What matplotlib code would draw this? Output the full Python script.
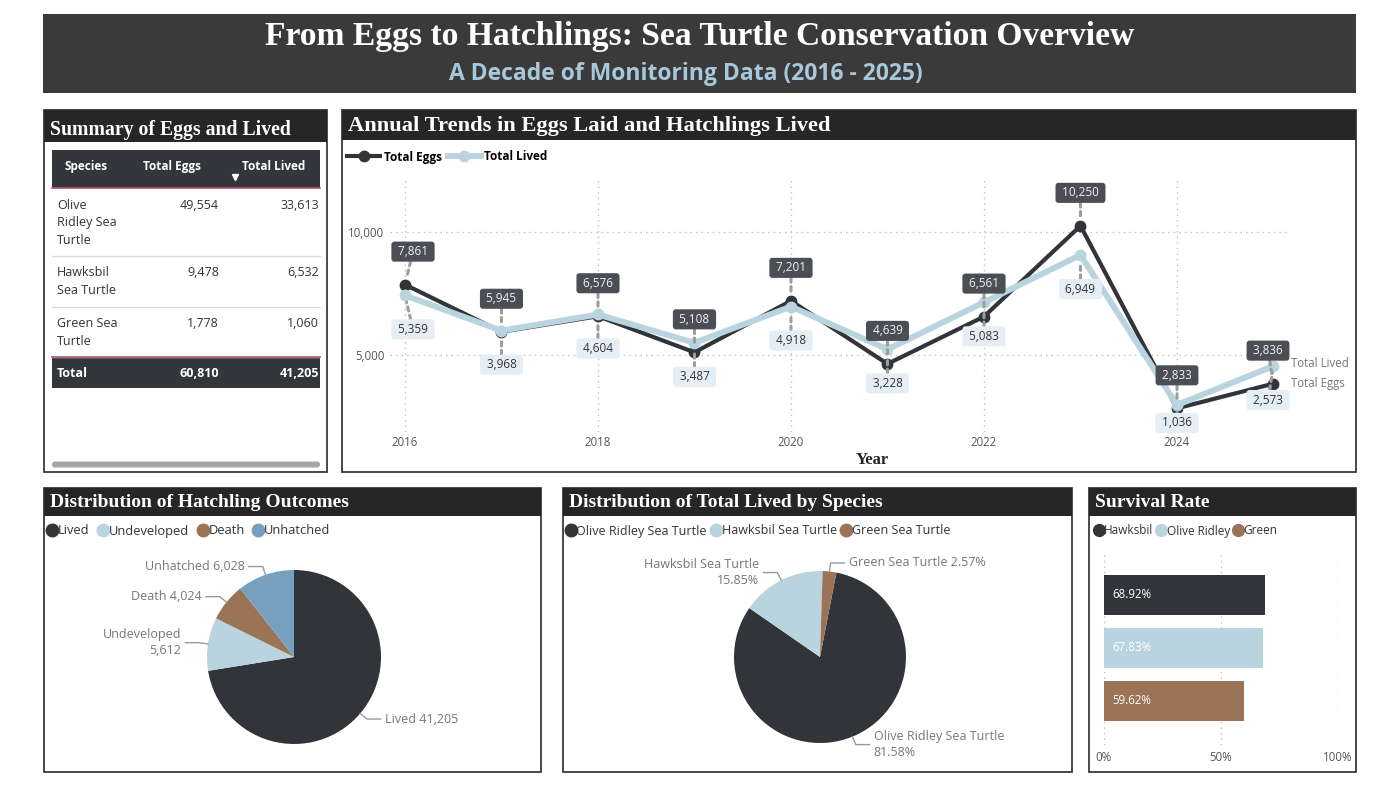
import matplotlib
matplotlib.use("Agg")
import matplotlib.pyplot as plt
from matplotlib.patches import Rectangle, FancyBboxPatch
from matplotlib.lines import Line2D
import numpy as np
import textwrap

# ---------------- data ----------------
years = list(range(2016, 2026))
eggs_by_year = [7861, 5945, 6576, 5108, 7201, 4639, 6561, 10250, 2833, 3836]
lived_by_year = [5359, 3968, 4604, 3487, 4918, 3228, 5083, 6949, 1036, 2573]

species = ["Olive Ridley Sea Turtle", "Hawksbil Sea Turtle", "Green Sea Turtle"]
species_eggs = [49554, 9478, 1778]
species_lived = [33613, 6532, 1060]

outcomes = ["Lived", "Undeveloped", "Death", "Unhatched"]
outcome_counts = [41205, 5612, 4024, 6028]
outcome_wrap = [False, True, False, False]

lived_species_wrap = [True, True, False]

survival_names = ["Hawksbil", "Olive Ridley", "Green"]
survival_species_idx = [1, 0, 2]

x_ticks = [2016, 2018, 2020, 2022, 2024]
y_ticks = [5000, 10000]
pct_ticks = [0, 50, 100]

# ---------------- style ----------------
W, H, DPI = 1400, 788, 100
DARK = "#31353a"
LIGHT = "#b9d3df"
BROWN = "#9b7457"
STEEL = "#77a0bf"
HEAD = "#262626"
SANS = ["Open Sans", "DejaVu Sans"]
SERIF = ["Liberation Serif", "DejaVu Serif"]
plt.rcParams["font.family"] = SANS

fig = plt.figure(figsize=(W / DPI, H / DPI), dpi=DPI, facecolor="white")
bg = fig.add_axes([0, 0, 1, 1])
bg.set_xlim(0, W)
bg.set_ylim(H, 0)
bg.axis("off")


def add_ax(x0, y0, x1, y1):
    a = fig.add_axes([x0 / W, 1 - y1 / H, (x1 - x0) / W, (y1 - y0) / H])
    a.set_facecolor("none")
    return a


def panel(x0, y0, x1, y1, hh, title, size, ty):
    bg.add_patch(Rectangle((x0, y0), x1 - x0, y1 - y0, fc="white", ec="#3a3a3a", lw=1.3, zorder=1))
    bg.add_patch(Rectangle((x0, y0), x1 - x0, hh, fc=HEAD, ec="none", zorder=2))
    bg.text(x0 + 6, ty, title, color="white", family=SERIF, weight="bold",
            fontsize=size, ha="left", va="center", zorder=3)


# ---------------- header ----------------
bg.add_patch(Rectangle((43, 14), 1313, 79, fc="#3a3a3a", ec="none"))
bg.text(700, 36, "From Eggs to Hatchlings: Sea Turtle Conservation Overview", color="white",
        family=SERIF, weight="bold", fontsize=24.2, ha="center", va="center")
bg.text(686, 74, "A Decade of Monitoring Data (2016 - 2025)", color="#a8c8da",
        weight="bold", fontsize=16.5, ha="center", va="center")

# ---------------- panels ----------------
panel(44, 110, 327, 472, 32, "Summary of Eggs and Lived", 14.2, 130)
panel(342, 110, 1356, 472, 30, "Annual Trends in Eggs Laid and Hatchlings Lived", 16.2, 126)
panel(44, 488, 541, 772, 28, "Distribution of Hatchling Outcomes", 14, 502)
panel(563, 488, 1072, 772, 28, "Distribution of Total Lived by Species", 14, 502)
panel(1089, 488, 1356, 772, 28, "Survival Rate", 14, 502)

# ---------------- table ----------------
TAB_X0, TAB_X1 = 52, 320
COL_EGGS_R, COL_LIVED_R = 219, 319
FS_T = 9
bg.add_patch(Rectangle((TAB_X0, 150), TAB_X1 - TAB_X0, 38, fc="#33373c", ec="none", zorder=2))
bg.plot([TAB_X0, TAB_X1], [188, 188], color="#b0507a", lw=1.2, zorder=3)
bg.text(86, 166, "Species", color="white", weight="bold", fontsize=8.5, ha="center", va="center", zorder=3)
bg.text(172, 166, "Total Eggs", color="white", weight="bold", fontsize=8.5, ha="center", va="center", zorder=3)
bg.text(274, 166, "Total Lived", color="white", weight="bold", fontsize=8.5, ha="center", va="center", zorder=3)
bg.plot([235], [177], marker="v", color="white", markersize=5, zorder=3)

LINE_H = 17.5
y = 188
for name, e, l in zip(species, species_eggs, species_lived):
    lines = textwrap.wrap(name, 10)
    first = y + 17
    for k, ln in enumerate(lines):
        bg.text(57, first + k * LINE_H, ln, color="#333333", fontsize=FS_T, ha="left", va="center", zorder=3)
    bg.text(COL_EGGS_R, first, f"{e:,}", color="#333333", fontsize=FS_T, ha="right", va="center", zorder=3)
    bg.text(COL_LIVED_R, first, f"{l:,}", color="#333333", fontsize=FS_T, ha="right", va="center", zorder=3)
    y = first + (len(lines) - 1) * LINE_H + 16
    bg.plot([TAB_X0, TAB_X1], [y, y], color="#dcdcdc", lw=1, zorder=3)

tot_top = y
bg.add_patch(Rectangle((TAB_X0, tot_top), TAB_X1 - TAB_X0, 31, fc="#33373c", ec="none", zorder=2))
bg.plot([TAB_X0, TAB_X1], [tot_top, tot_top], color="#b0507a", lw=1.2, zorder=3)
bg.text(57, tot_top + 16, "Total", color="white", weight="bold", fontsize=FS_T, ha="left", va="center", zorder=3)
bg.text(COL_EGGS_R, tot_top + 16, f"{sum(species_eggs):,}", color="white", weight="bold", fontsize=FS_T,
        ha="right", va="center", zorder=3)
bg.text(COL_LIVED_R, tot_top + 16, f"{sum(species_lived):,}", color="white", weight="bold", fontsize=FS_T,
        ha="right", va="center", zorder=3)
bg.add_patch(FancyBboxPatch((TAB_X0, 461.5), TAB_X1 - TAB_X0, 6,
                            boxstyle="round,pad=0,rounding_size=3", fc="#a6a6a6", ec="none", zorder=3))

# ---------------- line chart ----------------
AX_L, AX_T, AX_R, AX_B = 390, 180, 1290, 432
ax = add_ax(AX_L, AX_T, AX_R, AX_B)
ax2 = ax.twinx()
ax2.set_facecolor("none")
ax.set_xlim(2015.845, 2025.171)
ax.set_ylim(1870, 12114)
ax2.set_ylim(-28, 9906)
for a in (ax, ax2):
    for s in a.spines.values():
        s.set_visible(False)
ax.set_xticks(x_ticks)
ax.set_xticklabels([str(t) for t in x_ticks])
ax.set_yticks(y_ticks)
ax.set_yticklabels([f"{t:,}" for t in y_ticks])
ax.tick_params(length=0, labelsize=8.3, labelcolor="#555555")
ax.tick_params(axis="x", pad=3)
ax.tick_params(axis="y", pad=4)
ax2.set_yticks([])
ax.grid(True, linestyle=(0, (1, 3)), color="#bdbdbd", lw=1)

l_eggs, = ax.plot(years, eggs_by_year, color=DARK, lw=3, marker="o", markersize=7.5, zorder=3,
                  solid_joinstyle="round", label="Total Eggs")
l_lived, = ax2.plot(years, lived_by_year, color=LIGHT, lw=4.3, marker="o", markersize=7.5, zorder=3,
                    solid_joinstyle="round", label="Total Lived")


def px_top(a, x, v):
    d = a.transData.transform((x, v))
    return d[0], H - d[1]


PT = 72 / DPI
conn = dict(arrowstyle="-", color="#9d9d9d", lw=2.2, linestyle=(0, (1.4, 1.4)), shrinkA=0, shrinkB=5)
for yr, e, l in zip(years, eggs_by_year, lived_by_year):
    xe, ye = px_top(ax, yr, e)
    dx = min(max(xe, AX_L + 23), AX_R + 1 - 23) - xe
    ax2.annotate(f" {e:,} ", xy=(yr, e), xycoords=ax.transData, xytext=(dx * PT, 33 * PT),
                 textcoords="offset points", ha="center", va="center", fontsize=8.5, color="#f2f2f2",
                 bbox=dict(boxstyle="round,pad=0.3,rounding_size=0.25", fc="#4b4f55", ec="none"),
                 arrowprops=conn, zorder=6)
    xl, yl = px_top(ax2, yr, l)
    off = min(34, 423 - yl)
    ax2.annotate(f" {l:,} ", xy=(yr, l), xytext=(dx * PT, -off * PT),
                 textcoords="offset points", ha="center", va="center", fontsize=8.5, color="#333333",
                 bbox=dict(boxstyle="round,pad=0.3,rounding_size=0.25", fc="#e5eef4", ec="none"),
                 arrowprops=conn, zorder=6)

ax2.annotate("Total Lived", xy=(years[-1], lived_by_year[-1]), xytext=(18 * PT, 3 * PT),
             textcoords="offset points", ha="left", va="center", fontsize=8.3, color="#777777")
ax2.annotate("Total Eggs", xy=(years[-1], eggs_by_year[-1]), xycoords=ax.transData,
             xytext=(18 * PT, 0), textcoords="offset points", ha="left", va="center",
             fontsize=8.3, color="#777777")
fig.text(872 / W, 1 - 460 / H, "Year", family=SERIF, weight="bold", fontsize=12,
         color="#252525", ha="center", va="center")
fig.legend([l_eggs, l_lived], ["Total Eggs", "Total Lived"], loc="center left",
           bbox_to_anchor=(347 / W, 1 - 157 / H), ncol=2, frameon=False, handlelength=2.8,
           handletextpad=0.3, columnspacing=0.5, borderaxespad=0, borderpad=0,
           prop=dict(weight="bold", size=8.5))


# ---------------- pies ----------------
def dot_legend(labels, colors, x, y, size, colsp, ms=9):
    hs = [Line2D([], [], marker="o", linestyle="none", markersize=ms, markerfacecolor=c,
                 markeredgecolor=c) for c in colors]
    fig.legend(hs, labels, loc="center left", bbox_to_anchor=(x / W, 1 - y / H), ncol=len(labels),
               frameon=False, handlelength=0.6, handletextpad=0.15, columnspacing=colsp,
               borderaxespad=0, borderpad=0, prop=dict(size=size), labelcolor="#333333")


def pie_labels(a, wedges, texts):
    for w, t in zip(wedges, texts):
        th = np.deg2rad((w.theta1 + w.theta2) / 2)
        c, s = np.cos(th), np.sin(th)
        ex, ey = 1.1 * c, 1.1 * s
        sgn = 1 if c > 0 else -1
        a.plot([c, ex, ex + sgn * 0.16], [s, ey, ey], color="#9a9a9a", lw=1, clip_on=False)
        a.text(ex + sgn * 0.21, ey, t, ha="left" if sgn > 0 else "right", va="center",
               fontsize=9, color="#777777", linespacing=1.3)


pie1_colors = [DARK, LIGHT, BROWN, STEEL]
pa = add_ax(207, 570, 381, 744)
w1, _ = pa.pie(outcome_counts, colors=pie1_colors, startangle=90, counterclock=False,
               wedgeprops=dict(linewidth=0))
pa.set_xlim(-1, 1)
pa.set_ylim(-1, 1)
pa.set_aspect("equal")
pie_labels(pa, w1, [f"{n}{chr(10) if wr else ' '}{v:,}" for n, v, wr in
                    zip(outcomes, outcome_counts, outcome_wrap)])
dot_legend(outcomes, pie1_colors, 48, 531, 9.3, 0.75)

pie2_colors = [DARK, LIGHT, BROWN]
pb = add_ax(734, 571, 906, 743)
w2, _ = pb.pie(species_lived, colors=pie2_colors, startangle=79, counterclock=False,
               wedgeprops=dict(linewidth=0))
pb.set_xlim(-1, 1)
pb.set_ylim(-1, 1)
pb.set_aspect("equal")
tot_l = sum(species_lived)
pie_labels(pb, w2, [f"{n}{chr(10) if wr else ' '}{v / tot_l * 100:.2f}%" for n, v, wr in
                    zip(species, species_lived, lived_species_wrap)])
dot_legend(species, pie2_colors, 567, 531, 9, 0.45)

# ---------------- survival bars ----------------
sv = add_ax(1104, 553, 1338, 745)
rates = [species_lived[i] / species_eggs[i] * 100 for i in survival_species_idx]
bar_colors = [DARK, LIGHT, BROWN]
pos = np.arange(len(rates))
sv.barh(pos, rates, height=0.755, color=bar_colors, zorder=3)
sv.set_xlim(0, 100)
sv.set_ylim(2.83, -0.79)
for s in sv.spines.values():
    s.set_visible(False)
sv.set_yticks([])
sv.set_xticks(pct_ticks)
sv.set_xticklabels([f"{t}%" for t in pct_ticks])
sv.tick_params(length=0, labelsize=8.3, labelcolor="#555555", pad=4)
sv.grid(True, axis="x", linestyle=(0, (1, 3)), color="#bdbdbd", lw=1)
for p, r in zip(pos, rates):
    sv.annotate(f"{r:.2f}%", xy=(0, p), xytext=(6, 0), textcoords="offset points",
                ha="left", va="center", fontsize=8.3, color="white", zorder=4)
dot_legend(survival_names, bar_colors, 1095, 531, 8.5, 0.4, ms=8.5)

fig.savefig("out.png", dpi=DPI, facecolor="white")
